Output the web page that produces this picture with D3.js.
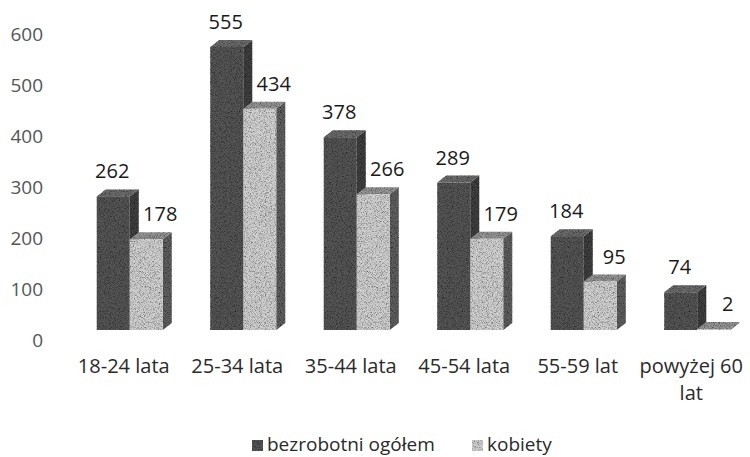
<!DOCTYPE html>
<html>
<head>
<meta charset="utf-8">
<script src="https://cdn.jsdelivr.net/npm/d3@7"></script>
<style>
  body { margin: 0; background: #fff; }
  text { font-family: "Open Sans", sans-serif; }
</style>
</head>
<body>
<div id="chart"></div>
<script>
// chart data
const categories = ["18-24 lata", "25-34 lata", "35-44 lata", "45-54 lata", "55-59 lat", "powyżej 60 lat"];
const seriesNames = ["bezrobotni ogółem", "kobiety"];
const totalValues = [262, 555, 378, 289, 184, 74];
const womenValues = [178, 434, 266, 179, 95, 2];
const yTicks = [0, 100, 200, 300, 400, 500, 600];

const width = 750, height = 457;
const depthX = 9, depthY = -7;   // 3d offset of the bars

// colours per series: front, top, side
const shades = [
    { front: "#555", top: "#6a6a6a", side: "#404040" },
    { front: "#d0d0d0", top: "#949494", side: "#5e5e5e" }
];

const svg = d3.select("#chart").append("svg")
    .attr("width", width)
    .attr("height", height);

// grainy texture like the scanned original
const defs = svg.append("defs");
const grain = defs.append("filter").attr("id", "grain")
    .attr("x", 0).attr("y", 0).attr("width", 1).attr("height", 1);
grain.append("feTurbulence")
    .attr("type", "fractalNoise")
    .attr("baseFrequency", 1.2)
    .attr("numOctaves", 1)
    .attr("result", "noise");
grain.append("feColorMatrix")
    .attr("in", "noise")
    .attr("type", "matrix")
    .attr("values", "0 0 0 0 0  0 0 0 0 0  0 0 0 0 0  2.2 0 0 0 -0.95")
    .attr("result", "dots");
grain.append("feComposite")
    .attr("in", "dots").attr("in2", "SourceGraphic")
    .attr("operator", "in").attr("result", "dotsIn");
grain.append("feMerge").call(m => {
    m.append("feMergeNode").attr("in", "SourceGraphic");
    m.append("feMergeNode").attr("in", "dotsIn");
});

// scales
const x = d3.scaleBand()
    .domain(categories)
    .range([67, 67 + 6 * 113.5]);

const inner = d3.scaleBand()
    .domain(seriesNames)
    .range([-27, 39]);

const y = d3.scaleLinear()
    .domain([0, 600])
    .range([330, 24]);

// y axis (labels only)
const yAxis = svg.append("g")
    .attr("transform", "translate(43,10)")
    .call(d3.axisLeft(y).tickValues(yTicks).tickSize(0).tickPadding(0));
yAxis.select(".domain").remove();
yAxis.selectAll("text")
    .style("font-family", "'Open Sans', sans-serif")
    .style("font-size", "19px")
    .attr("fill", "#555");

// bars
const rows = categories.map((c, i) => ({ cat: c, values: [totalValues[i], womenValues[i]] }));

const groups = svg.append("g").selectAll("g")
    .data(rows)
    .join("g")
    .attr("transform", d => "translate(" + (x(d.cat) + x.bandwidth() / 2) + ",0)");

seriesNames.forEach((name, s) => {
    const bw = inner.bandwidth();
    const bar = groups.append("g").attr("filter", "url(#grain)");
    // side face
    bar.append("path")
        .attr("fill", shades[s].side)
        .attr("d", d => {
            const x1 = inner(name) + bw, yt = y(d.values[s]), yb = y(0);
            return "M" + x1 + "," + yt + "L" + (x1 + depthX) + "," + (yt + depthY) +
                "L" + (x1 + depthX) + "," + (yb + depthY) + "L" + x1 + "," + yb + "Z";
        });
    // top face
    bar.append("path")
        .attr("fill", shades[s].top)
        .attr("d", d => {
            const x0 = inner(name), yt = y(d.values[s]);
            return "M" + x0 + "," + yt + "L" + (x0 + depthX) + "," + (yt + depthY) +
                "L" + (x0 + bw + depthX) + "," + (yt + depthY) + "L" + (x0 + bw) + "," + yt + "Z";
        });
    // front face
    bar.append("rect")
        .attr("fill", shades[s].front)
        .attr("x", inner(name))
        .attr("width", bw)
        .attr("y", d => y(d.values[s]))
        .attr("height", d => y(0) - y(d.values[s]));
});

// value labels
seriesNames.forEach((name, s) => {
    groups.append("text")
        .attr("x", inner(name) + inner.bandwidth() / 2 + (s === 0 ? -1 : 14))
        .attr("y", d => y(d.values[s]) - 18)
        .attr("text-anchor", "middle")
        .style("font-size", "20px")
        .attr("fill", "#1a1a1a")
        .text(d => d.values[s]);
});

// category labels, wrapped when too wide
const catLabels = svg.append("g").selectAll("text")
    .data(categories)
    .join("text")
    .attr("x", d => x(d) + x.bandwidth() / 2)
    .attr("y", 373)
    .attr("text-anchor", "middle")
    .style("font-size", "20px")
    .attr("fill", "#2a2a2a");

catLabels.each(function (d) {
    const t = d3.select(this);
    const words = d.split(" ");
    let line = [];
    let tspan = t.append("tspan").attr("x", t.attr("x")).attr("dy", 0);
    words.forEach(w => {
        line.push(w);
        tspan.text(line.join(" "));
        if (tspan.node().getComputedTextLength() > 112 && line.length > 1) {
            line.pop();
            tspan.text(line.join(" "));
            line = [w];
            tspan = t.append("tspan").attr("x", t.attr("x")).attr("dy", 27).text(w);
        }
    });
});

// legend
const legendX = [252, 472];
const legend = svg.append("g").selectAll("g")
    .data(seriesNames)
    .join("g")
    .attr("transform", (d, i) => "translate(" + legendX[i] + ",440)");
legend.append("rect")
    .attr("width", 11).attr("height", 11)
    .attr("fill", (d, i) => shades[i].front)
    .attr("filter", "url(#grain)");
legend.append("text")
    .attr("x", 15)
    .attr("y", 11)
    .style("font-size", "19px")
    .attr("fill", "#2a2a2a")
    .text(d => d);
</script>
</body>
</html>
